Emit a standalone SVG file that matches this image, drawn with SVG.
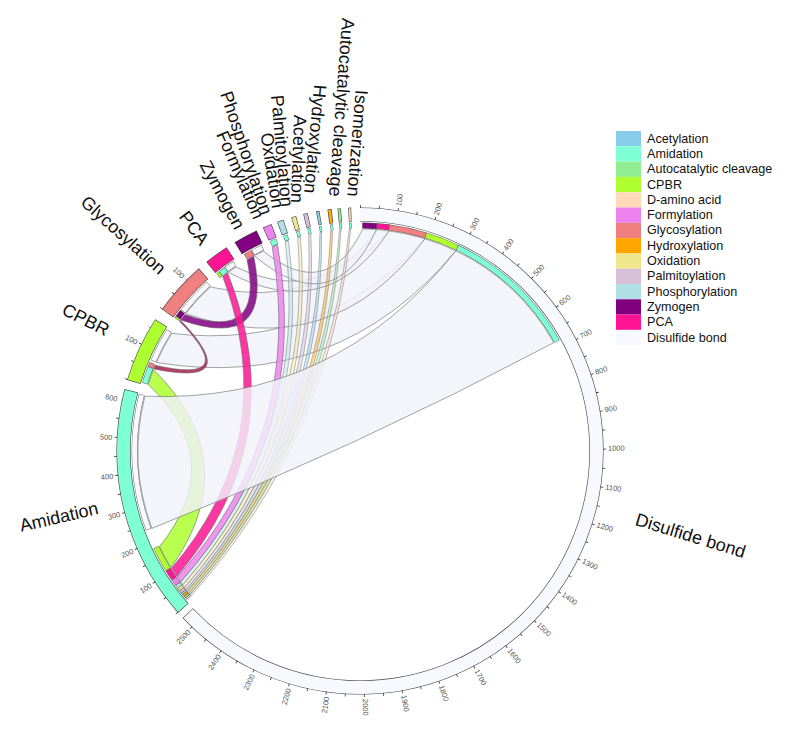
<svg xmlns="http://www.w3.org/2000/svg" width="800" height="747" viewBox="0 0 800 747">
<style>
.lab{font-family:"Liberation Sans",Arial,sans-serif;font-size:18px;fill:#111}
.tk{font-family:"Liberation Sans",Arial,sans-serif;font-size:7.5px;fill:#555}
.lg{font-family:"Liberation Sans",Arial,sans-serif;font-size:12.6px;fill:#111}
.rib{stroke:#666;stroke-width:0.6}
.lav{fill:#F1F1FA;fill-opacity:0.82}
.col{fill-opacity:0.85}
.thin{fill-opacity:0.45;stroke:#777;stroke-width:0.5}
.bo{fill:none;stroke:#444;stroke-width:14.2}
.bf{fill:none;stroke-width:13}
.so{fill:none;stroke:#555;stroke-width:5.8}
.sf{fill:none;stroke-width:5}
.tick{fill:none;stroke:#333;stroke-width:3}
</style>
<rect width="800" height="747" fill="#fff"/>

<g id="links">
<path class="rib lav" d="M424.9,238.7 A222,222 0 0 1 455.9,250.8 Q338.1,392.2 156.4,362.5 A222,222 0 0 1 171.7,333.4 Q322.6,351.1 424.9,238.7 Z"/>
<path class="rib lav" d="M389.0,230.9 A222,222 0 0 1 424.9,238.7 Q332.8,364.1 185.5,313.7 A222,222 0 0 1 210.3,287.0 Q316.1,311.4 389.0,230.9 Z"/>
<path class="rib lav" d="M376.6,229.6 A222,222 0 0 1 389.0,230.9 Q327.6,325.3 228.3,272.3 A222,222 0 0 1 235.9,267.0 Q322.1,308.0 376.6,229.6 Z"/>
<path class="rib lav" d="M362.7,229.0 A222,222 0 0 1 376.6,229.6 Q332.6,322.9 254.4,255.7 A222,222 0 0 1 263.4,251.1 Q327.0,302.7 362.7,229.0 Z"/>
<path class="rib col" fill="#800080" d="M247.0,259.9 A222,222 0 0 1 253.7,256.1 Q273.7,352.4 180.8,319.9 A222,222 0 0 1 184.8,314.6 Q264.8,342.8 247.0,259.9 Z"/>
<path class="rib col" fill="#A8204E" d="M153.7,368.9 A222,222 0 0 1 155.2,365.3 Q241.3,384.6 179.7,321.5 A222,222 0 0 1 180.6,320.2 Q245.3,387.7 153.7,368.9 Z"/>
<path class="rib col" fill="#ADFF2F" d="M148.2,384.6 A222,222 0 0 1 153.4,369.6 Q246.2,461.2 171.1,567.7 A222,222 0 0 1 159.6,546.6 Q228.7,460.3 148.2,384.6 Z"/>
<path class="rib col" fill="#FF1493" d="M222.7,276.5 A222,222 0 0 1 227.6,272.8 Q293.5,439.9 176.8,576.4 A222,222 0 0 1 171.5,568.3 Q283.1,437.5 222.7,276.5 Z"/>
<path class="rib col" fill="#EE82EE" d="M272.2,247.1 A222,222 0 0 1 277.5,244.9 Q311.5,437.0 180.6,581.8 A222,222 0 0 1 177.3,577.1 Q304.8,435.1 272.2,247.1 Z"/>
<path class="thin" fill="#B0E0E6" d="M285.2,242.0 L288.4,240.9 Q314.4,437.0 182.7,584.6 L180.8,582.1 Q309.7,435.3 285.2,242.0 Z"/>
<path class="thin" fill="#F0E68C" d="M297.7,237.9 L300.3,237.2 Q318.1,437.2 184.6,587.1 L182.9,584.9 Q313.4,435.5 297.7,237.9 Z"/>
<path class="thin" fill="#D8BFD8" d="M308.6,235.0 L310.8,234.5 Q321.3,437.4 186.3,589.2 L184.8,587.4 Q316.6,435.7 308.6,235.0 Z"/>
<path class="thin" fill="#87CEEB" d="M319.9,232.6 L321.5,232.4 Q324.3,437.7 187.5,590.7 L186.5,589.5 Q319.6,436.0 319.9,232.6 Z"/>
<path class="thin" fill="#FFA500" d="M330.6,231.0 L332.6,230.7 Q327.0,437.9 188.9,592.5 L187.7,591.0 Q322.3,436.2 330.6,231.0 Z"/>
<path class="thin" fill="#90EE90" d="M339.5,230.0 L341.0,229.8 Q329.2,438.3 190.2,594.0 L189.2,592.8 Q324.5,436.6 339.5,230.0 Z"/>
<path class="thin" fill="#FFDAB9" d="M349.2,229.3 L350.7,229.2 Q331.5,438.6 191.4,595.5 L190.4,594.3 Q326.8,436.9 349.2,229.3 Z"/>
<path class="rib lav" d="M455.9,250.8 A222,222 0 0 1 553.8,342.7 Q358.0,446.7 151.9,528.4 A222,222 0 0 1 144.9,396.2 Q334.0,404.0 455.9,250.8 Z"/>
</g>

<g id="sector-disulfide">
<g transform="translate(360,451) rotate(-90)">
<circle r="236.5" class="bo" stroke="#666" stroke-dasharray="936.13 3000" stroke-dashoffset="0.6"/>
<circle r="236.5" class="bf" stroke="#F8F8FF" stroke-dasharray="934.93 3000"/>
<circle r="225.5" class="so" stroke-dasharray="14.969 3000" stroke-dashoffset="-2.355"/>
<circle r="225.5" class="sf" stroke="#800080" stroke-dasharray="14.169 3000" stroke-dashoffset="-2.755"/>
<circle r="225.5" class="so" stroke-dasharray="13.394 3000" stroke-dashoffset="-16.524"/>
<circle r="225.5" class="sf" stroke="#FF1493" stroke-dasharray="12.594 3000" stroke-dashoffset="-16.924"/>
<circle r="225.5" class="so" stroke-dasharray="38.189 3000" stroke-dashoffset="-29.118"/>
<circle r="225.5" class="sf" stroke="#F08080" stroke-dasharray="37.389 3000" stroke-dashoffset="-29.518"/>
<circle r="225.5" class="so" stroke-dasharray="34.647 3000" stroke-dashoffset="-66.507"/>
<circle r="225.5" class="sf" stroke="#ADFF2F" stroke-dasharray="33.847 3000" stroke-dashoffset="-66.907"/>
<circle r="225.5" class="so" stroke-dasharray="139.338 3000" stroke-dashoffset="-100.355"/>
<circle r="225.5" class="sf" stroke="#7FFFD4" stroke-dasharray="138.538 3000" stroke-dashoffset="-100.755"/>
<path class="tick" d="M244.5,0 A244.5,244.5 0 1 1 -176.5,-169.2" stroke-dasharray="0.8 18.275"/>
</g>
<g transform="translate(360,451)" class="tk" dominant-baseline="central">
<text transform="rotate(-81.06)" x="248">100</text>
<text transform="rotate(-72.12)" x="248">200</text>
<text transform="rotate(-63.18)" x="248">300</text>
<text transform="rotate(-54.24)" x="248">400</text>
<text transform="rotate(-45.30)" x="248">500</text>
<text transform="rotate(-36.36)" x="248">600</text>
<text transform="rotate(-27.42)" x="248">700</text>
<text transform="rotate(-18.48)" x="248">800</text>
<text transform="rotate(-9.54)" x="248">900</text>
<text transform="rotate(-0.60)" x="248">1000</text>
<text transform="rotate(8.34)" x="248">1100</text>
<text transform="rotate(17.28)" x="248">1200</text>
<text transform="rotate(26.22)" x="248">1300</text>
<text transform="rotate(35.16)" x="248">1400</text>
<text transform="rotate(44.10)" x="248">1500</text>
<text transform="rotate(53.04)" x="248">1600</text>
<text transform="rotate(61.98)" x="248">1700</text>
<text transform="rotate(70.92)" x="248">1800</text>
<text transform="rotate(79.86)" x="248">1900</text>
<text transform="rotate(88.80)" x="248">2000</text>
<text transform="rotate(-82.26)" x="-248" text-anchor="end">2100</text>
<text transform="rotate(-73.32)" x="-248" text-anchor="end">2200</text>
<text transform="rotate(-64.38)" x="-248" text-anchor="end">2300</text>
<text transform="rotate(-55.44)" x="-248" text-anchor="end">2400</text>
<text transform="rotate(-46.50)" x="-248" text-anchor="end">2500</text>
</g>
<text class="lab" transform="translate(636,519) rotate(17)" dominant-baseline="central">Disulfide bond</text>
</g>

<g id="sector-amidation">
<g transform="translate(360,451) rotate(-90)">
<circle r="236.5" class="bo" stroke-dasharray="232.76 3000" stroke-dashoffset="-942.17"/>
<circle r="236.5" class="bf" stroke="#7FFFD4" stroke-dasharray="231.56 3000" stroke-dashoffset="-942.77"/>
<circle r="225.5" class="so" stroke-dasharray="2.374 3000" stroke-dashoffset="-902.456"/>
<circle r="225.5" class="sf" stroke="#FFDAB9" stroke-dasharray="1.574 3000" stroke-dashoffset="-902.856"/>
<circle r="225.5" class="so" stroke-dasharray="2.374 3000" stroke-dashoffset="-904.424"/>
<circle r="225.5" class="sf" stroke="#90EE90" stroke-dasharray="1.574 3000" stroke-dashoffset="-904.824"/>
<circle r="225.5" class="so" stroke-dasharray="2.768 3000" stroke-dashoffset="-906.392"/>
<circle r="225.5" class="sf" stroke="#FFA500" stroke-dasharray="1.968 3000" stroke-dashoffset="-906.792"/>
<circle r="225.5" class="so" stroke-dasharray="2.374 3000" stroke-dashoffset="-908.754"/>
<circle r="225.5" class="sf" stroke="#87CEEB" stroke-dasharray="1.574 3000" stroke-dashoffset="-909.154"/>
<circle r="225.5" class="so" stroke-dasharray="3.161 3000" stroke-dashoffset="-910.722"/>
<circle r="225.5" class="sf" stroke="#D8BFD8" stroke-dasharray="2.361 3000" stroke-dashoffset="-911.122"/>
<circle r="225.5" class="so" stroke-dasharray="3.555 3000" stroke-dashoffset="-913.476"/>
<circle r="225.5" class="sf" stroke="#F0E68C" stroke-dasharray="2.755 3000" stroke-dashoffset="-913.876"/>
<circle r="225.5" class="so" stroke-dasharray="3.949 3000" stroke-dashoffset="-916.625"/>
<circle r="225.5" class="sf" stroke="#B0E0E6" stroke-dasharray="3.149 3000" stroke-dashoffset="-917.025"/>
<circle r="225.5" class="so" stroke-dasharray="6.704 3000" stroke-dashoffset="-920.167"/>
<circle r="225.5" class="sf" stroke="#EE82EE" stroke-dasharray="5.904 3000" stroke-dashoffset="-920.567"/>
<circle r="225.5" class="so" stroke-dasharray="10.639 3000" stroke-dashoffset="-926.858"/>
<circle r="225.5" class="sf" stroke="#FF1493" stroke-dasharray="9.839 3000" stroke-dashoffset="-927.258"/>
<circle r="225.5" class="so" stroke-dasharray="25.202 3000" stroke-dashoffset="-937.485"/>
<circle r="225.5" class="sf" stroke="#ADFF2F" stroke-dasharray="24.402 3000" stroke-dashoffset="-937.885"/>
<circle r="225.5" class="so" stroke-dasharray="137.370 3000" stroke-dashoffset="-981.958"/>
<circle r="225.5" class="sf" stroke="#F8F8FF" stroke-dasharray="136.570 3000" stroke-dashoffset="-982.358"/>
<path class="tick" d="M-162.3,-182.8 A244.5,244.5 0 0 1 51.2,-239.1" stroke-dasharray="0.8 18.275"/>
</g>
<g transform="translate(360,451)" class="tk" dominant-baseline="central" text-anchor="end">
<text transform="rotate(-32.66)" x="-248">100</text>
<text transform="rotate(-23.72)" x="-248">200</text>
<text transform="rotate(-14.78)" x="-248">300</text>
<text transform="rotate(-5.84)" x="-248">400</text>
<text transform="rotate(3.10)" x="-248">500</text>
<text transform="rotate(12.04)" x="-248">600</text>
</g>
<text class="lab" transform="translate(98,508) rotate(-13)" text-anchor="end" dominant-baseline="central">Amidation</text>
</g>

<g id="sector-cpbr">
<g transform="translate(360,451) rotate(-90)">
<circle r="236.5" class="bo" stroke-dasharray="65.18 3000" stroke-dashoffset="-1184.05"/>
<circle r="236.5" class="bf" stroke="#ADFF2F" stroke-dasharray="63.98 3000" stroke-dashoffset="-1184.65"/>
<circle r="225.5" class="so" stroke-dasharray="16.936 3000" stroke-dashoffset="-1130.729"/>
<circle r="225.5" class="sf" stroke="#7FFFD4" stroke-dasharray="16.136 3000" stroke-dashoffset="-1131.129"/>
<circle r="225.5" class="so" stroke-dasharray="4.736 3000" stroke-dashoffset="-1147.652"/>
<circle r="225.5" class="sf" stroke="#F08080" stroke-dasharray="3.936 3000" stroke-dashoffset="-1148.052"/>
<circle r="225.5" class="so" stroke-dasharray="34.254 3000" stroke-dashoffset="-1154.737"/>
<circle r="225.5" class="sf" stroke="#F8F8FF" stroke-dasharray="33.454 3000" stroke-dashoffset="-1155.137"/>
<path class="tick" d="M71.5,-233.8 A244.5,244.5 0 0 1 124.1,-210.7" stroke-dasharray="0.8 18.275"/>
</g>
<text class="tk" transform="translate(360,451) rotate(25.94)" x="-248" text-anchor="end" dominant-baseline="central">100</text>
<text class="lab" transform="translate(108,331) rotate(27)" text-anchor="end" dominant-baseline="central">CPBR</text>
</g>

<g id="sector-glycosylation">
<g transform="translate(360,451) rotate(-90)">
<circle r="236.5" class="bo" stroke-dasharray="53.62 3000" stroke-dashoffset="-1260.83"/>
<circle r="236.5" class="bf" stroke="#F08080" stroke-dasharray="52.42 3000" stroke-dashoffset="-1261.43"/>
<circle r="225.5" class="so" stroke-dasharray="2.374 3000" stroke-dashoffset="-1202.753"/>
<circle r="225.5" class="sf" stroke="#ADFF2F" stroke-dasharray="1.574 3000" stroke-dashoffset="-1203.153"/>
<circle r="225.5" class="so" stroke-dasharray="7.491 3000" stroke-dashoffset="-1204.721"/>
<circle r="225.5" class="sf" stroke="#800080" stroke-dasharray="6.691 3000" stroke-dashoffset="-1205.121"/>
<circle r="225.5" class="so" stroke-dasharray="37.796 3000" stroke-dashoffset="-1212.592"/>
<circle r="225.5" class="sf" stroke="#F8F8FF" stroke-dasharray="36.996 3000" stroke-dashoffset="-1212.992"/>
<path class="tick" d="M142.3,-198.8 A244.5,244.5 0 0 1 171.7,-174.1" stroke-dasharray="0.8 18.275"/>
</g>
<text class="tk" transform="translate(360,451) rotate(44.54)" x="-248" text-anchor="end" dominant-baseline="central">100</text>
<text class="lab" transform="translate(163,271) rotate(42)" text-anchor="end" dominant-baseline="central">Glycosylation</text>
</g>

<g id="sector-pca">
<g transform="translate(360,451) rotate(-90)">
<circle r="236.5" class="bo" stroke-dasharray="24.32 3000" stroke-dashoffset="-1323.99"/>
<circle r="236.5" class="bf" stroke="#FF1493" stroke-dasharray="23.12 3000" stroke-dashoffset="-1324.59"/>
<circle r="225.5" class="so" stroke-dasharray="3.161 3000" stroke-dashoffset="-1262.969"/>
<circle r="225.5" class="sf" stroke="#ADFF2F" stroke-dasharray="2.361 3000" stroke-dashoffset="-1263.369"/>
<circle r="225.5" class="so" stroke-dasharray="7.097 3000" stroke-dashoffset="-1266.118"/>
<circle r="225.5" class="sf" stroke="#7FFFD4" stroke-dasharray="6.297 3000" stroke-dashoffset="-1266.518"/>
<circle r="225.5" class="so" stroke-dasharray="10.246 3000" stroke-dashoffset="-1273.202"/>
<circle r="225.5" class="sf" stroke="#F8F8FF" stroke-dasharray="9.446 3000" stroke-dashoffset="-1273.602"/>
</g>
<text class="lab" transform="translate(205,243) rotate(53.7)" text-anchor="end" dominant-baseline="central">PCA</text>
</g>

<g id="sector-zymogen">
<g transform="translate(360,451) rotate(-90)">
<circle r="236.5" class="bo" stroke-dasharray="24.32 3000" stroke-dashoffset="-1357.42"/>
<circle r="236.5" class="bf" stroke="#800080" stroke-dasharray="23.12 3000" stroke-dashoffset="-1358.02"/>
<circle r="225.5" class="so" stroke-dasharray="8.671 3000" stroke-dashoffset="-1296.029"/>
<circle r="225.5" class="sf" stroke="#F08080" stroke-dasharray="7.871 3000" stroke-dashoffset="-1296.429"/>
<circle r="225.5" class="so" stroke-dasharray="11.033 3000" stroke-dashoffset="-1304.688"/>
<circle r="225.5" class="sf" stroke="#F8F8FF" stroke-dasharray="10.233 3000" stroke-dashoffset="-1305.088"/>
</g>
<text class="lab" transform="translate(240,228) rotate(61.8)" text-anchor="end" dominant-baseline="central">Zymogen</text>
</g>

<g id="sector-formylation">
<g transform="translate(360,451) rotate(-90)">
<circle r="236.5" class="bo" stroke-dasharray="9.04 3000" stroke-dashoffset="-1388.37"/>
<circle r="236.5" class="bf" stroke="#EE82EE" stroke-dasharray="7.84 3000" stroke-dashoffset="-1388.97"/>
<circle r="225.5" class="so" stroke-dasharray="6.704 3000" stroke-dashoffset="-1324.760"/>
<circle r="225.5" class="sf" stroke="#7FFFD4" stroke-dasharray="5.904 3000" stroke-dashoffset="-1325.160"/>
</g>
<text class="lab" transform="translate(259,218) rotate(66.5)" text-anchor="end" dominant-baseline="central">Formylation</text>
</g>

<g id="sector-phosphorylation">
<g transform="translate(360,451) rotate(-90)">
<circle r="236.5" class="bo" stroke-dasharray="6.57 3000" stroke-dashoffset="-1403.23"/>
<circle r="236.5" class="bf" stroke="#B0E0E6" stroke-dasharray="5.37 3000" stroke-dashoffset="-1403.83"/>
<circle r="225.5" class="so" stroke-dasharray="4.342 3000" stroke-dashoffset="-1338.929"/>
<circle r="225.5" class="sf" stroke="#7FFFD4" stroke-dasharray="3.542 3000" stroke-dashoffset="-1339.329"/>
</g>
<text class="lab" transform="translate(267,214) rotate(71.3)" text-anchor="end" dominant-baseline="central">Phosphorylation</text>
</g>

<g id="sector-oxidation">
<g transform="translate(360,451) rotate(-90)">
<circle r="236.5" class="bo" stroke-dasharray="4.91 3000" stroke-dashoffset="-1417.68"/>
<circle r="236.5" class="bf" stroke="#F0E68C" stroke-dasharray="3.71 3000" stroke-dashoffset="-1418.28"/>
<circle r="225.5" class="so" stroke-dasharray="3.555 3000" stroke-dashoffset="-1352.310"/>
<circle r="225.5" class="sf" stroke="#7FFFD4" stroke-dasharray="2.755 3000" stroke-dashoffset="-1352.710"/>
</g>
<text class="lab" transform="translate(278,208) rotate(81.2)" text-anchor="end" dominant-baseline="central">Oxidation</text>
</g>

<g id="sector-palmitoylation">
<g transform="translate(360,451) rotate(-90)">
<circle r="236.5" class="bo" stroke-dasharray="4.50 3000" stroke-dashoffset="-1429.65"/>
<circle r="236.5" class="bf" stroke="#D8BFD8" stroke-dasharray="3.30 3000" stroke-dashoffset="-1430.25"/>
<circle r="225.5" class="so" stroke-dasharray="3.161 3000" stroke-dashoffset="-1363.724"/>
<circle r="225.5" class="sf" stroke="#7FFFD4" stroke-dasharray="2.361 3000" stroke-dashoffset="-1364.124"/>
</g>
<text class="lab" transform="translate(287,206.7) rotate(84.9)" text-anchor="end" dominant-baseline="central">Palmitoylation</text>
</g>

<g id="sector-acetylation">
<g transform="translate(360,451) rotate(-90)">
<circle r="236.5" class="bo" stroke-dasharray="3.26 3000" stroke-dashoffset="-1442.45"/>
<circle r="236.5" class="bf" stroke="#87CEEB" stroke-dasharray="2.06 3000" stroke-dashoffset="-1443.05"/>
<circle r="225.5" class="so" stroke-dasharray="2.374 3000" stroke-dashoffset="-1375.531"/>
<circle r="225.5" class="sf" stroke="#7FFFD4" stroke-dasharray="1.574 3000" stroke-dashoffset="-1375.931"/>
</g>
<text class="lab" transform="translate(297,203) rotate(92)" text-anchor="end" dominant-baseline="central">Acetylation</text>
</g>

<g id="sector-hydroxylation">
<g transform="translate(360,451) rotate(-90)">
<circle r="236.5" class="bo" stroke-dasharray="4.09 3000" stroke-dashoffset="-1453.59"/>
<circle r="236.5" class="bf" stroke="#FFA500" stroke-dasharray="2.89 3000" stroke-dashoffset="-1454.19"/>
<circle r="225.5" class="so" stroke-dasharray="2.768 3000" stroke-dashoffset="-1386.551"/>
<circle r="225.5" class="sf" stroke="#7FFFD4" stroke-dasharray="1.968 3000" stroke-dashoffset="-1386.951"/>
</g>
<text class="lab" transform="translate(310,193.3) rotate(95.4)" text-anchor="end" dominant-baseline="central">Hydroxylation</text>
</g>

<g id="sector-autocatalytic">
<g transform="translate(360,451) rotate(-90)">
<circle r="236.5" class="bo" stroke-dasharray="3.26 3000" stroke-dashoffset="-1463.50"/>
<circle r="236.5" class="bf" stroke="#90EE90" stroke-dasharray="2.06 3000" stroke-dashoffset="-1464.10"/>
<circle r="225.5" class="so" stroke-dasharray="2.374 3000" stroke-dashoffset="-1395.603"/>
<circle r="225.5" class="sf" stroke="#7FFFD4" stroke-dasharray="1.574 3000" stroke-dashoffset="-1396.003"/>
</g>
<text class="lab" transform="translate(335,196.7) rotate(94.2)" text-anchor="end" dominant-baseline="central">Autocatalytic cleavage</text>
</g>

<g id="sector-isomerization">
<g transform="translate(360,451) rotate(-90)">
<circle r="236.5" class="bo" stroke-dasharray="2.85 3000" stroke-dashoffset="-1473.82"/>
<circle r="236.5" class="bf" stroke="#FFDAB9" stroke-dasharray="1.65 3000" stroke-dashoffset="-1474.42"/>
<circle r="225.5" class="so" stroke-dasharray="2.374 3000" stroke-dashoffset="-1405.443"/>
<circle r="225.5" class="sf" stroke="#7FFFD4" stroke-dasharray="1.574 3000" stroke-dashoffset="-1405.843"/>
</g>
<text class="lab" transform="translate(353.3,196.7) rotate(94.4)" text-anchor="end" dominant-baseline="central">Isomerization</text>
</g>

<g id="legend" class="lg" dominant-baseline="central">
<rect x="616" y="131" width="25" height="15.3" fill="#87CEEB"/><text x="647" y="138.65">Acetylation</text>
<rect x="616" y="146.3" width="25" height="15.3" fill="#7FFFD4"/><text x="647" y="153.95">Amidation</text>
<rect x="616" y="161.6" width="25" height="15.3" fill="#90EE90"/><text x="647" y="169.25">Autocatalytic cleavage</text>
<rect x="616" y="176.9" width="25" height="15.3" fill="#ADFF2F"/><text x="647" y="184.55">CPBR</text>
<rect x="616" y="192.2" width="25" height="15.3" fill="#FFDAB9"/><text x="647" y="199.85">D-amino acid</text>
<rect x="616" y="207.5" width="25" height="15.3" fill="#EE82EE"/><text x="647" y="215.15">Formylation</text>
<rect x="616" y="222.8" width="25" height="15.3" fill="#F08080"/><text x="647" y="230.45">Glycosylation</text>
<rect x="616" y="238.1" width="25" height="15.3" fill="#FFA500"/><text x="647" y="245.75">Hydroxylation</text>
<rect x="616" y="253.4" width="25" height="15.3" fill="#F0E68C"/><text x="647" y="261.05">Oxidation</text>
<rect x="616" y="268.7" width="25" height="15.3" fill="#D8BFD8"/><text x="647" y="276.35">Palmitoylation</text>
<rect x="616" y="284.0" width="25" height="15.3" fill="#B0E0E6"/><text x="647" y="291.65">Phosphorylation</text>
<rect x="616" y="299.3" width="25" height="15.3" fill="#800080"/><text x="647" y="306.95">Zymogen</text>
<rect x="616" y="314.6" width="25" height="15.3" fill="#FF1493"/><text x="647" y="322.25">PCA</text>
<rect x="616" y="329.9" width="25" height="15.3" fill="#F8F8FF"/><text x="647" y="337.55">Disulfide bond</text>
</g>
</svg>
